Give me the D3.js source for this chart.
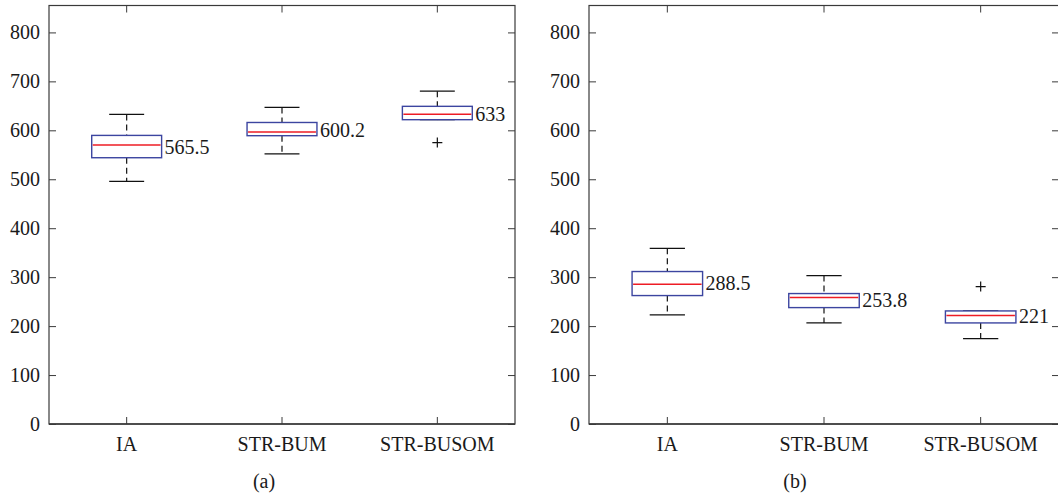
<!DOCTYPE html>
<html>
<head>
<meta charset="utf-8">
<script src="https://cdn.jsdelivr.net/npm/d3@7"></script>
<style>
  body { margin: 0; background: #fff; }
  svg { display: block; }
  text { font-family: "Liberation Serif", "Times New Roman", serif; fill: #1a1a1a; }
</style>
</head>
<body>
<div id="chart"></div>
<script>
// categories and tick values
const categories = ['IA', 'STR-BUM', 'STR-BUSOM'];
const panelLabels = ['(a)', '(b)'];
const yTicks = [0, 100, 200, 300, 400, 500, 600, 700, 800];

// panel (a) box statistics
const lowA = [495.5, 552, 621.7];
const q1A = [544, 589, 621.7];
const medA = [570, 596.5, 633];
const q3A = [589.6, 616, 649];
const highA = [632.5, 646.8, 680];
const meanA = [565.5, 600.2, 633];
const outA = [[], [], [575]];

// panel (b) box statistics
const lowB = [223, 206.5, 174.4];
const q1B = [262.4, 237.8, 206.5];
const medB = [285.7, 258.3, 221.5];
const q3B = [311.5, 266.5, 231];
const highB = [359, 303.3, 231];
const meanB = [288.5, 253.8, 221];
const outB = [[], [], [280.8]];

const W = 1058, H = 498;
const svg = d3.select('#chart').append('svg').attr('width', W).attr('height', H);

const panels = [
  {x0: 49, x1: 515, cx: 264, low: lowA, q1: q1A, med: medA, q3: q3A, high: highA, mean: meanA, out: outA},
  {x0: 589, x1: 1059, cx: 795, low: lowB, q1: q1B, med: medB, q3: q3B, high: highB, mean: meanB, out: outB}
];

const plotTop = 5.5, plotBottom = 424;
const y = d3.scaleLinear().domain([0, 855]).range([plotBottom, plotTop]);
const axisColor = '#3a3a3a';
const boxColor = '#3c45a0';
const medColor = '#ee1c25';

panels.forEach((p, pi) => {
  const x = d3.scaleBand().domain(categories).range([p.x0, p.x1]).padding(0);
  const cx = d => x(d) + x.bandwidth() / 2;
  const boxW = x.bandwidth() * 0.45;
  const capW = boxW / 2;
  const g = svg.append('g');

  // frame
  g.append('rect')
    .attr('x', p.x0).attr('y', plotTop)
    .attr('width', p.x1 - p.x0).attr('height', plotBottom - plotTop)
    .attr('fill', 'none').attr('stroke', axisColor).attr('stroke-width', 1.2);

  // left axis
  const yAxis = g.append('g').attr('transform', `translate(${p.x0},0)`)
    .call(d3.axisLeft(y).tickValues(yTicks).tickSize(-7).tickPadding(9).tickFormat(d3.format('d')));
  yAxis.select('.domain').remove();
  yAxis.selectAll('line').attr('stroke', axisColor);
  yAxis.selectAll('text').style('font-size', '20px').style('font-family', '"Liberation Serif", serif').attr('fill', '#1a1a1a');

  // right ticks
  const yRight = g.append('g').attr('transform', `translate(${p.x1},0)`)
    .call(d3.axisRight(y).tickValues(yTicks).tickSize(-7).tickFormat(''));
  yRight.select('.domain').remove();
  yRight.selectAll('line').attr('stroke', axisColor);

  // bottom axis
  const xAxis = g.append('g').attr('transform', `translate(0,${plotBottom})`)
    .call(d3.axisBottom(x).tickSize(-7).tickPadding(13));
  xAxis.select('.domain').attr('stroke', axisColor).attr('stroke-width', 1.6).attr('d', `M${p.x0},0H${p.x1}`);
  xAxis.selectAll('line').attr('stroke', axisColor);
  xAxis.selectAll('text').style('font-size', '20px').style('font-family', '"Liberation Serif", serif').attr('fill', '#1a1a1a');

  // top ticks
  const xTop = g.append('g').attr('transform', `translate(0,${plotTop})`)
    .call(d3.axisTop(x).tickSize(-7).tickFormat(''));
  xTop.select('.domain').remove();
  xTop.selectAll('line').attr('stroke', axisColor);

  // boxes
  const stats = categories.map((c, i) => ({
    c, low: p.low[i], q1: p.q1[i], med: p.med[i], q3: p.q3[i], high: p.high[i], mean: p.mean[i], out: p.out[i]
  }));

  const box = g.selectAll('.box').data(stats).enter().append('g').attr('class', 'box');

  // dashed whiskers
  box.append('line')
    .attr('x1', d => cx(d.c)).attr('x2', d => cx(d.c))
    .attr('y1', d => y(d.high)).attr('y2', d => y(d.q3))
    .attr('stroke', '#111').attr('stroke-width', 1.2).attr('stroke-dasharray', '6,4');
  box.append('line')
    .attr('x1', d => cx(d.c)).attr('x2', d => cx(d.c))
    .attr('y1', d => y(d.q1)).attr('y2', d => y(d.low))
    .attr('stroke', '#111').attr('stroke-width', 1.2).attr('stroke-dasharray', '6,4');
  // caps
  box.append('line')
    .attr('x1', d => cx(d.c) - capW / 2).attr('x2', d => cx(d.c) + capW / 2)
    .attr('y1', d => y(d.high)).attr('y2', d => y(d.high))
    .attr('stroke', '#111').attr('stroke-width', 1.2);
  box.append('line')
    .attr('x1', d => cx(d.c) - capW / 2).attr('x2', d => cx(d.c) + capW / 2)
    .attr('y1', d => y(d.low)).attr('y2', d => y(d.low))
    .attr('stroke', '#111').attr('stroke-width', 1.2);

  // box
  box.append('rect')
    .attr('x', d => cx(d.c) - boxW / 2).attr('width', boxW)
    .attr('y', d => y(d.q3)).attr('height', d => y(d.q1) - y(d.q3))
    .attr('fill', '#fff').attr('stroke', boxColor).attr('stroke-width', 1.4);

  // median
  box.append('line')
    .attr('x1', d => cx(d.c) - boxW / 2 + 1).attr('x2', d => cx(d.c) + boxW / 2 - 1)
    .attr('y1', d => y(d.med)).attr('y2', d => y(d.med))
    .attr('stroke', medColor).attr('stroke-width', 1.5);

  // outliers
  box.selectAll('.outlier').data(d => d.out.map(v => ({c: d.c, v}))).enter()
    .append('path').attr('class', 'outlier')
    .attr('d', d => {
      const px = cx(d.c), py = y(d.v), s = 5;
      return `M${px - s},${py}H${px + s}M${px},${py - s}V${py + s}`;
    })
    .attr('stroke', '#111').attr('stroke-width', 1.2).attr('fill', 'none');

  // mean labels
  box.append('text')
    .attr('x', d => cx(d.c) + boxW / 2 + 3)
    .attr('y', d => y(d.mean))
    .attr('dy', '0.35em')
    .style('font-size', '20px')
    .text(d => d.mean);

  // panel label
  svg.append('text')
    .attr('x', p.cx).attr('y', 488)
    .attr('text-anchor', 'middle')
    .style('font-size', '20px')
    .text(panelLabels[pi]);
});
</script>
</body>
</html>
